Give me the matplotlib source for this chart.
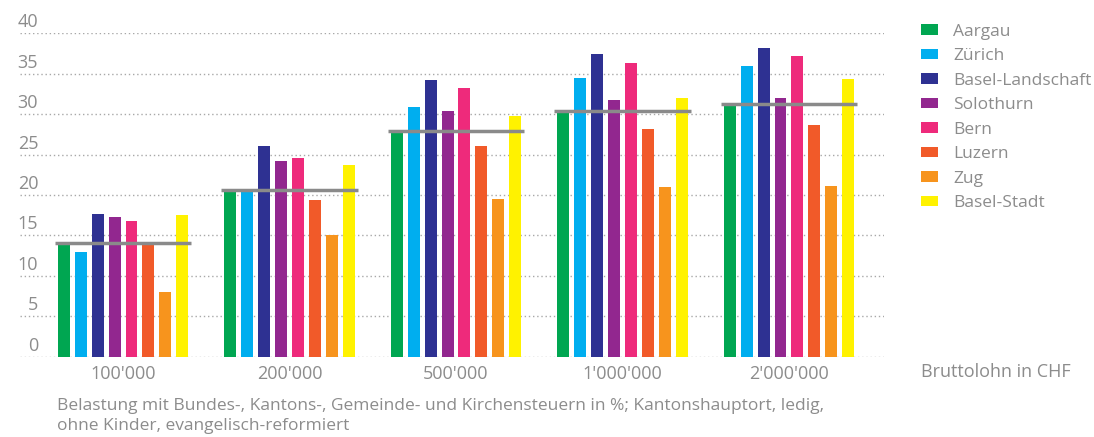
import matplotlib.pyplot as plt
import numpy as np

plt.rcParams['font.family'] = ['Open Sans', 'DejaVu Sans']

groups = ["100'000", "200'000", "500'000", "1'000'000", "2'000'000"]
cantons = ["Aargau", "Zürich", "Basel-Landschaft", "Solothurn", "Bern",
           "Luzern", "Zug", "Basel-Stadt"]
colors = ["#00a651", "#00aeef", "#2e3192", "#92278f", "#ee2a7b",
          "#f15a29", "#f7941d", "#fff200"]

# Belastung in % per canton, one value per Bruttolohn group
values = {
    "Aargau":           [14.0, 20.6, 27.9, 30.3, 31.1],
    "Zürich":           [12.9, 20.6, 30.9, 34.5, 35.9],
    "Basel-Landschaft": [17.7, 26.0, 34.2, 37.4, 38.2],
    "Solothurn":        [17.3, 24.2, 30.4, 31.8, 32.0],
    "Bern":             [16.8, 24.6, 33.2, 36.3, 37.2],
    "Luzern":           [14.0, 19.4, 26.1, 28.2, 28.7],
    "Zug":              [8.0, 15.1, 19.5, 21.0, 21.1],
    "Basel-Stadt":      [17.5, 23.7, 29.8, 32.0, 34.4],
}
average = [14.1, 20.6, 27.9, 30.4, 31.2]
yticks = [0, 5, 10, 15, 20, 25, 30, 35, 40]

grey = "#8c8c8c"

fig = plt.figure(figsize=(10.94, 4.37), dpi=100)
ax = fig.add_axes([20 / 1094, 1 - 356.7 / 437, 864 / 1094, 323.4 / 437])

x = np.arange(len(groups))
pitch = 0.1015
width = 0.072
handles = []
for i, name in enumerate(cantons):
    offset = (i - 3.5) * pitch
    b = ax.bar(x + offset, values[name], width=width, color=colors[i], zorder=3)
    handles.append(b)

for i, avg in enumerate(average):
    ax.hlines(avg, x[i] - 0.41, x[i] + 0.41, color="#8a8a8a", linewidth=2.5, zorder=4)

ax.set_xlim(-0.619, 4.571)
ax.set_ylim(0, 40)
ax.set_yticks(yticks)
ax.grid(axis="y", color="#a8a8a8", linestyle=(0, (1, 2)), linewidth=1, zorder=0)
ax.tick_params(axis="y", length=0, labelleft=False)
ax.tick_params(axis="x", length=0, pad=6, labelsize=13, labelcolor=grey)
ax.set_xticks(x)
ax.set_xticklabels(groups)
for s in ax.spines.values():
    s.set_visible(False)

for t in yticks:
    ax.text(0.021, t + 0.25, str(t), transform=ax.get_yaxis_transform(),
            ha="right", va="bottom", fontsize=13, color=grey)

leg = fig.legend(handles, cantons, loc="upper left", bbox_to_anchor=(921 / 1094, 1 - 23.5 / 437),
                 frameon=False, fontsize=12.5, handlelength=1.0, handleheight=0.57,
                 handletextpad=0.85, labelspacing=0.49, borderaxespad=0, borderpad=0)
for t in leg.get_texts():
    t.set_color(grey)

fig.text(921 / 1094, 1 - 372 / 437, "Bruttolohn in CHF", fontsize=13, color=grey,
         ha="left", va="center")
fig.text(57 / 1094, 1 - 398 / 437,
         "Belastung mit Bundes-, Kantons-, Gemeinde- und Kirchensteuern in %; Kantonshauptort, ledig,\nohne Kinder, evangelisch-reformiert",
         fontsize=12.5, color=grey, ha="left", va="top", linespacing=1.35)

fig.savefig("out.png", dpi=100)
